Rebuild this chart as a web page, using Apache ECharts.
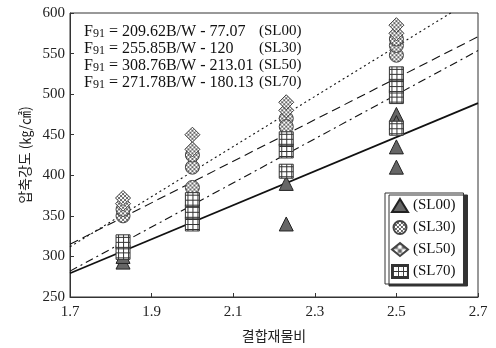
<!DOCTYPE html>
<html>
<head>
<meta charset="utf-8">
<script src="https://cdn.jsdelivr.net/npm/echarts@6/dist/echarts.min.js"></script>
<style>
  html, body { margin: 0; padding: 0; background: #fff; }
  #chart { width: 496px; height: 348px; }
</style>
</head>
<body>
<div id="chart"></div>
<script>
// Binder ratio vs. compressive strength, four mixes
const mixNames = ['(SL00)', '(SL30)', '(SL50)', '(SL70)'];
const slopes = [209.62, 255.85, 308.76, 271.78];
const intercepts = [-77.07, -120, -213.01, -180.13];
const equationTexts = [
  '= 209.62B/W - 77.07',
  '= 255.85B/W - 120',
  '= 308.76B/W - 213.01',
  '= 271.78B/W - 180.13'
];
const xTicks = [1.7, 1.9, 2.1, 2.3, 2.5, 2.7];

// measured points [B/W, strength]
const sl00 = [[1.83, 293], [1.83, 300], [2.23, 390], [2.23, 340], [2.5, 475], [2.5, 465], [2.5, 435], [2.5, 410]];
const sl30 = [[1.83, 350], [1.83, 358], [2.0, 385], [2.0, 410], [2.0, 425], [2.23, 470], [2.23, 460], [2.5, 548], [2.5, 560], [2.5, 568]];
const sl50 = [[1.83, 365], [1.83, 372], [2.0, 432], [2.0, 450], [2.23, 480], [2.23, 490], [2.5, 575], [2.5, 585]];
const sl70 = [[1.83, 305], [1.83, 318], [2.0, 340], [2.0, 355], [2.0, 370], [2.23, 405], [2.23, 430], [2.23, 445], [2.5, 458], [2.5, 497], [2.5, 510], [2.5, 525]];

const SERIF = '"Liberation Serif", "DejaVu Serif", serif';

// hatch fill; symbols are drawn as unit paths scaled up, so the tile is scaled back down
function makePattern(kind, size) {
  const c = document.createElement('canvas');
  const s = kind === 'grid' ? 5 : 4;
  c.width = s; c.height = s;
  const g = c.getContext('2d');
  g.fillStyle = '#fff';
  g.fillRect(0, 0, s, s);
  g.strokeStyle = kind === 'grid' ? '#333' : '#666';
  g.lineWidth = 1;
  g.beginPath();
  if (kind === 'grid') {
    g.moveTo(0, 0.5); g.lineTo(s, 0.5);
    g.moveTo(0.5, 0); g.lineTo(0.5, s);
  } else {
    g.moveTo(0, 0); g.lineTo(s, s);
    g.moveTo(s, 0); g.lineTo(0, s);
  }
  g.stroke();
  const k = 2 / size;
  return { image: c, repeat: 'repeat', scaleX: k, scaleY: k };
}

const lineTypes = ['solid', [9, 5], [2, 3], [8, 4, 2, 4]];
const lineSeries = slopes.map((m, i) => ({
  type: 'line',
  name: 'fit' + i,
  data: [1.7, 2.7].map(x => [x, m * x + intercepts[i]]),
  showSymbol: false,
  symbol: 'none',
  clip: true,
  silent: true,
  z: 1,
  lineStyle: { color: '#111', width: i === 0 ? 1.7 : 1.1, type: lineTypes[i] }
}));

const markerDefs = [
  { data: sl00, symbol: 'triangle', size: 14, color: '#666', border: '#222' },
  { data: sl30, symbol: 'circle', size: 14, color: makePattern('cross', 14), border: '#444' },
  { data: sl50, symbol: 'diamond', size: 15, color: makePattern('cross', 15), border: '#444' },
  { data: sl70, symbol: 'rect', size: 14, color: makePattern('grid', 14), border: '#333' }
];
const scatterSeries = markerDefs.map((d, i) => ({
  type: 'scatter',
  name: mixNames[i],
  data: d.data,
  symbol: d.symbol,
  symbolSize: d.size,
  z: 3 + i,
  itemStyle: { color: d.color, borderColor: d.border, borderWidth: 1, opacity: 1 }
}));

const chart = echarts.init(document.getElementById('chart'), null, { renderer: 'canvas' });
chart.setOption({
  animation: false,
  backgroundColor: '#fff',
  grid: { left: 70, right: 18, top: 13, bottom: 46, show: true, borderColor: '#333', borderWidth: 1 },
  xAxis: {
    type: 'value', min: 1.7, max: 2.7, interval: 0.2,
    axisLine: { show: true, lineStyle: { color: '#333' } },
    axisTick: { show: true, inside: true, length: 4, lineStyle: { color: '#333' } },
    splitLine: { show: false },
    axisLabel: { color: '#222', fontFamily: SERIF, fontSize: 15, margin: 8,
      formatter: v => xTicks.find(t => Math.abs(t - v) < 1e-6).toFixed(1) },
    name: '결합재물비', nameLocation: 'middle', nameGap: 32,
    nameTextStyle: { color: '#222', fontFamily: '"Noto Sans CJK KR"', fontSize: 14 }
  },
  yAxis: {
    type: 'value', min: 250, max: 600, interval: 50,
    axisLine: { show: true, lineStyle: { color: '#333' } },
    axisTick: { show: true, inside: true, length: 4, lineStyle: { color: '#333' } },
    splitLine: { show: false },
    axisLabel: { color: '#222', fontFamily: SERIF, fontSize: 15, margin: 5 },
    name: '압축강도 (㎏/㎠)', nameLocation: 'middle', nameGap: 38, nameRotate: 90,
    nameTextStyle: { color: '#222', fontFamily: '"Noto Sans CJK KR"', fontSize: 14 }
  },
  legend: {
    data: mixNames,
    orient: 'vertical',
    left: 385, top: 193,
    itemWidth: 16, itemHeight: 13, itemGap: 7,
    padding: [5, 8, 5, 6],
    backgroundColor: '#fff',
    borderColor: '#333', borderWidth: 1,
    shadowColor: '#333', shadowOffsetX: 4, shadowOffsetY: 2, shadowBlur: 0,
    textStyle: { color: '#111', fontFamily: SERIF, fontSize: 15 },
    selectedMode: false
  },
  graphic: equationTexts.map((t, i) => ({
    type: 'text', left: 84, top: 24 + i * 17, z: 10,
    style: {
      text: '{f|F}{s|91} ' + t,
      rich: {
        f: { fontFamily: SERIF, fontSize: 16, fill: '#111' },
        s: { fontFamily: SERIF, fontSize: 12, fill: '#111', verticalAlign: 'bottom', padding: [4, 0, 0, 0] }
      },
      fontFamily: SERIF, fontSize: 16, fill: '#111'
    }
  })).concat(mixNames.map((n, i) => ({
    type: 'text', left: 259, top: 24 + i * 17, z: 10,
    style: { text: n, fontFamily: SERIF, fontSize: 15, fill: '#111' }
  }))),
  series: lineSeries.concat(scatterSeries)
});
</script>
</body>
</html>
